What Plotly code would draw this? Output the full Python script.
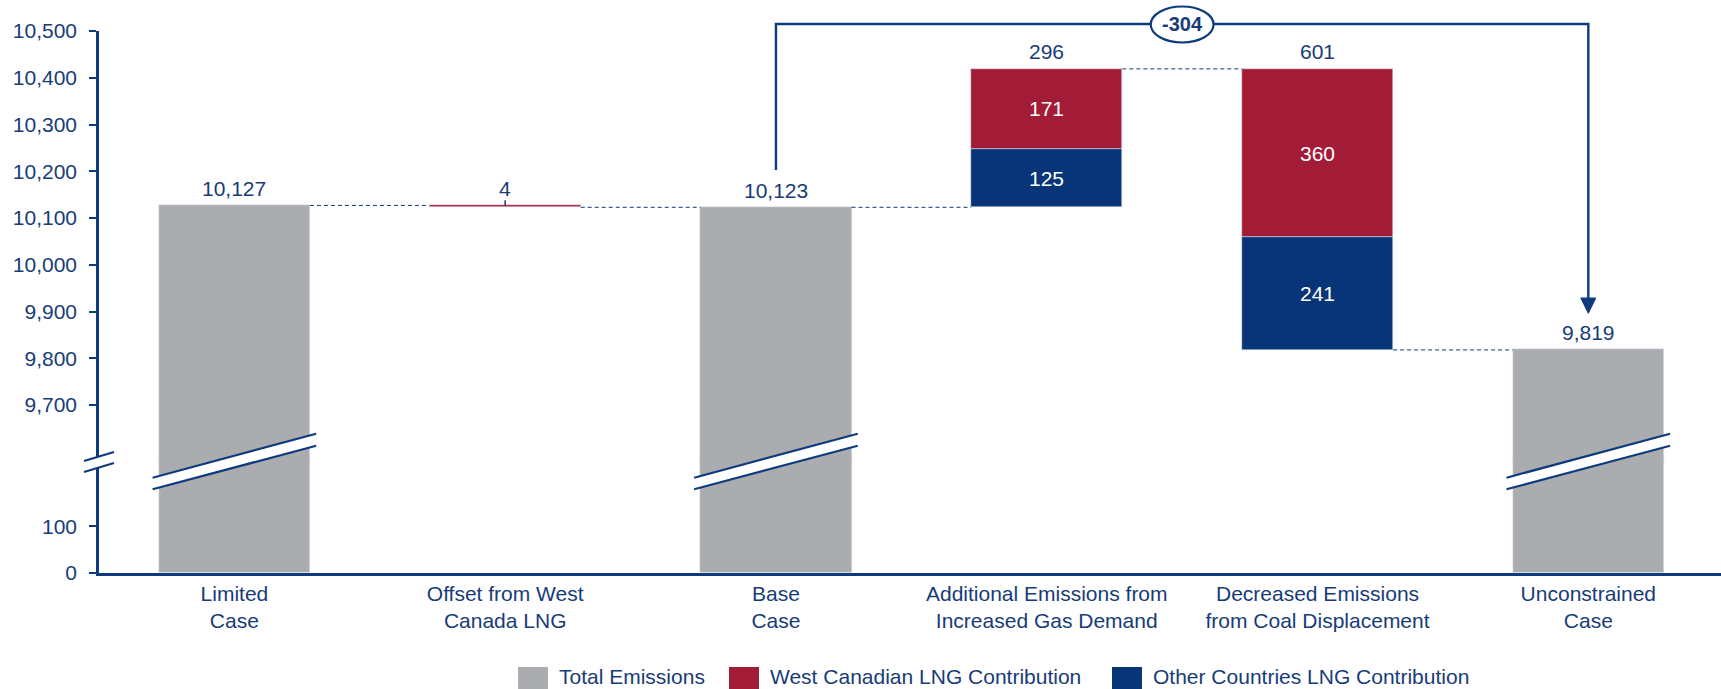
import plotly.graph_objects as go

# ---------------- data ----------------
categories = ["Limited<br>Case", "Offset from West<br>Canada LNG", "Base<br>Case",
              "Additional Emissions from<br>Increased Gas Demand",
              "Decreased Emissions<br>from Coal Displacement", "Unconstrained<br>Case"]
total_emissions = [10127, None, 10123, None, None, 9819]
west_canadian = [None, -4, None, 171, -360, None]
other_countries = [None, None, None, 125, -241, None]
lower_ticks = [0, 100]
upper_ticks = [9700, 9800, 9900, 10000, 10100, 10200, 10300, 10400, 10500]
legend_names = ["Total Emissions", "West Canadian LNG Contribution", "Other Countries LNG Contribution"]
bracket_from, bracket_to = 2, 5

# ---------------- style ----------------
GREY = "#ABACB0"
RED = "#A21C37"
BLUE = "#083578"
LINE = "#0E3A7E"
TXT = "#173C78"
FONT = "Liberation Sans, Arial, sans-serif"
FS = 21
W, H = 1721, 689
ML, MR, MT, MB = 99, 0, 31, 116
BW = 0.558
LOWER_MAX = 237
UPPER_MIN = 9578
UPPER_MAX = 10500
UNITS = LOWER_MAX + UPPER_MAX - UPPER_MIN
f_dom = LOWER_MAX / UNITS
OVERLAP = 0.01  # lower panel slightly overlaps upper one to hide the seam


def pyp(p):  # pixel y -> paper y
    return (H - MB - p) / (H - MT - MB)


def pxp(p):  # pixel x -> paper x
    return (p - ML) / (W - ML - MR)


x = list(range(len(categories)))

# ---------------- waterfall computation ----------------
grey_y = []
red_base, red_h, blue_base, blue_h = [], [], [], []
tops, ends = [], []
level = None
for i in x:
    t = total_emissions[i]
    if t is not None:
        level = t
        grey_y.append(t)
        red_base.append(None); red_h.append(None)
        blue_base.append(None); blue_h.append(None)
        tops.append(t); ends.append(t)
    else:
        grey_y.append(None)
        w = west_canadian[i] or 0
        o = other_countries[i] or 0
        if w + o >= 0:
            blue_base.append(level if o else None); blue_h.append(o if o else None)
            red_base.append(level + o if w else None); red_h.append(w if w else None)
            tops.append(level + o + w)
            level = level + o + w
        else:
            red_base.append(level + w if w else None); red_h.append(-w if w else None)
            blue_base.append(level + w + o if o else None); blue_h.append(-o if o else None)
            tops.append(level)
            level = level + w + o
        ends.append(level)

fig = go.Figure()
# grey totals in both halves of the broken axis
fig.add_trace(go.Bar(x=x, y=grey_y, width=BW, marker_color=GREY, yaxis="y2",
                     name=legend_names[0], showlegend=False, hoverinfo="skip"))
fig.add_trace(go.Bar(x=x, y=grey_y, width=BW, marker_color=GREY, yaxis="y",
                     showlegend=False, hoverinfo="skip"))
fig.add_trace(go.Bar(x=x, y=red_h, base=red_base, width=BW, marker_color=RED, yaxis="y2",
                     name=legend_names[1], showlegend=False, hoverinfo="skip"))
fig.add_trace(go.Bar(x=x, y=blue_h, base=blue_base, width=BW, marker_color=BLUE, yaxis="y2",
                     name=legend_names[2], showlegend=False, hoverinfo="skip"))

shapes = []
annotations = []

# connectors
for i in x[:-1]:
    shapes.append(dict(type="line", xref="x", yref="y2", x0=i + BW / 2, x1=i + 1 - BW / 2,
                       y0=ends[i], y1=ends[i], line=dict(color=LINE, width=1, dash="4px,3px")))

# top labels
for i in x:
    if total_emissions[i] is not None:
        txt = f"{total_emissions[i]:,}"
    else:
        txt = f"{abs((west_canadian[i] or 0) + (other_countries[i] or 0)):,}"
    annotations.append(dict(x=i, y=tops[i], xref="x", yref="y2", text=txt, showarrow=False,
                            yanchor="middle", yshift=17, font=dict(size=FS, color=TXT, family=FONT)))

# inside labels
for i in x:
    if total_emissions[i] is None:
        for b, h in ((red_base[i], red_h[i]), (blue_base[i], blue_h[i])):
            if h is not None and h > 20:
                annotations.append(dict(x=i, y=b + h / 2, xref="x", yref="y2", text=f"{h:,}",
                                        showarrow=False, font=dict(size=FS, color="white", family=FONT)))

# small tick on thin offset bar
for i in x:
    if total_emissions[i] is None and red_h[i] is not None and red_h[i] < 20:
        shapes.append(dict(type="line", xref="x", yref="y2", x0=i, x1=i,
                           y0=tops[i], y1=tops[i] + 11, line=dict(color=LINE, width=1.5)))

# bar break marks on grey totals
yu0, yu1 = pyp(477.7), pyp(433.7)
yl0, yl1 = pyp(489.3), pyp(445.7)
ext = 0.302
for i in x:
    if total_emissions[i] is not None:
        shapes.append(dict(type="path", xref="x", yref="paper", layer="above",
                           path=f"M{i-ext},{yu0} L{i+ext},{yu1} L{i+ext},{yl1} L{i-ext},{yl0} Z",
                           fillcolor="white", line=dict(width=0)))
        shapes.append(dict(type="line", xref="x", yref="paper", x0=i - ext, x1=i + ext,
                           y0=yu0, y1=yu1, line=dict(color=LINE, width=2.2)))
        shapes.append(dict(type="line", xref="x", yref="paper", x0=i - ext, x1=i + ext,
                           y0=yl0, y1=yl1, line=dict(color=LINE, width=2.2)))

# axis break mark
ax0, ax1 = pxp(84), pxp(114)
shapes.append(dict(type="path", xref="paper", yref="paper",
                   path=f"M{ax0},{pyp(461)} L{ax1},{pyp(452)} L{ax1},{pyp(463)} L{ax0},{pyp(472)} Z",
                   fillcolor="white", line=dict(width=0)))
shapes.append(dict(type="line", xref="paper", yref="paper", x0=ax0, x1=ax1, y0=pyp(461), y1=pyp(452),
                   line=dict(color=LINE, width=2.2)))
shapes.append(dict(type="line", xref="paper", yref="paper", x0=ax0, x1=ax1, y0=pyp(472), y1=pyp(463),
                   line=dict(color=LINE, width=2.2)))

# bracket with arrow
by = pyp(24)
start_y = pyp(170)
tip_y = pyp(313.3)
head_y = pyp(298)
hw = 7.5 / 270.5
shapes.append(dict(type="path", xref="x", yref="paper",
                   path=f"M{bracket_from},{start_y} L{bracket_from},{by} L{bracket_to},{by} L{bracket_to},{head_y}",
                   line=dict(color=LINE, width=2.4)))
shapes.append(dict(type="path", xref="x", yref="paper",
                   path=f"M{bracket_to-hw},{head_y} L{bracket_to+hw},{head_y} L{bracket_to},{tip_y} Z",
                   fillcolor=LINE, line=dict(color=LINE, width=1)))
mid = (bracket_from + bracket_to) / 2
ew = 0.116
shapes.append(dict(type="circle", xref="x", yref="paper", x0=mid - ew, x1=mid + ew,
                   y0=pyp(42.5), y1=pyp(6.5), fillcolor="white", line=dict(color=LINE, width=2.2)))
diff = total_emissions[bracket_to] - total_emissions[bracket_from]
annotations.append(dict(x=mid, y=by, xref="x", yref="paper", text=f"<b>{diff:,}</b>", showarrow=False,
                        yanchor="middle", font=dict(size=20, color=TXT, family=FONT)))

# custom legend
leg_cols = [GREY, RED, BLUE]
sq_x = [518, 729, 1112]
for c, sx, name in zip(leg_cols, sq_x, legend_names):
    shapes.append(dict(type="rect", xref="paper", yref="paper", x0=pxp(sx), x1=pxp(sx + 30),
                       y0=pyp(689), y1=pyp(667), fillcolor=c, line=dict(width=0)))
    annotations.append(dict(x=pxp(sx + 39), y=pyp(676.5), xref="paper", yref="paper", text=name,
                            showarrow=False, xanchor="left", yanchor="middle",
                            font=dict(size=FS, color=TXT, family=FONT)))

axis_common = dict(showgrid=False, zeroline=False, showline=True, linecolor=LINE, linewidth=2.5,
                   ticks="outside", ticklen=7, tickwidth=2, tickcolor=LINE, ticklabelstandoff=8,
                   tickfont=dict(size=FS, color=TXT, family=FONT), anchor="x")

fig.update_layout(
    width=W, height=H,
    margin=dict(l=ML, r=MR, t=MT, b=MB),
    plot_bgcolor="rgba(0,0,0,0)", paper_bgcolor="white",
    barmode="overlay", bargap=0,
    showlegend=False,
    xaxis=dict(range=[-0.5, 5.49], tickvals=x, ticktext=categories, showgrid=False, zeroline=False,
               showline=True, linecolor=LINE, linewidth=2.5, ticks="", anchor="y",
               tickfont=dict(size=FS, color=TXT, family=FONT), fixedrange=True),
    yaxis=dict(domain=[0, f_dom + OVERLAP], range=[0, LOWER_MAX + OVERLAP * UNITS], tickvals=lower_ticks,
               ticktext=[f"{v:,}" for v in lower_ticks], **axis_common),
    yaxis2=dict(domain=[f_dom, 1], range=[UPPER_MIN, UPPER_MAX], tickvals=upper_ticks,
                ticktext=[f"{v:,}" for v in upper_ticks], **axis_common),
    shapes=shapes,
    annotations=annotations,
    font=dict(family=FONT, color=TXT),
)

fig.write_html("out.html")
